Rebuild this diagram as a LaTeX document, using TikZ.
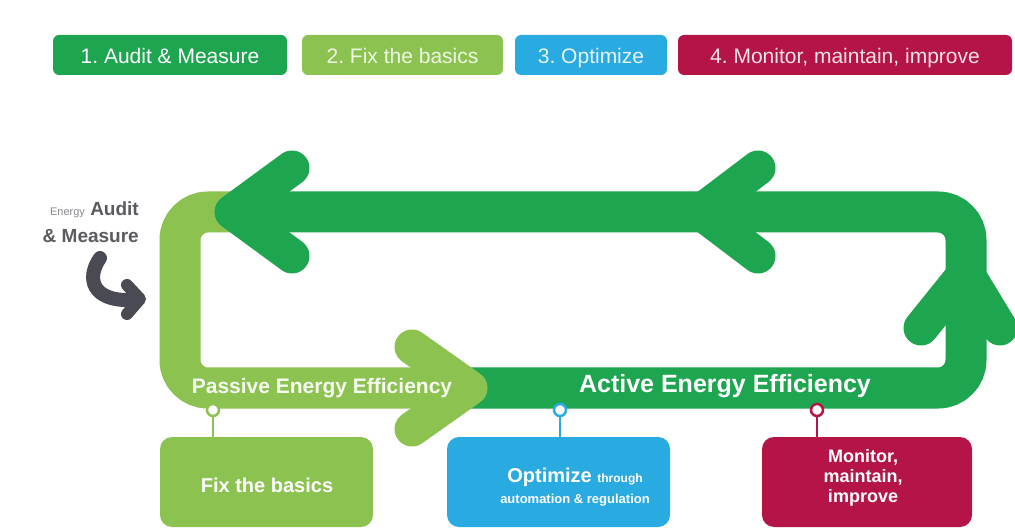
\documentclass[tikz,border=0pt]{standalone}
\usepackage{fontspec}
\setmainfont{Liberation Sans}
\setsansfont{Liberation Sans}
\definecolor{dkgreen}{HTML}{1EA550}
\definecolor{ltgreen}{HTML}{8CC350}
\definecolor{skyblue}{HTML}{29AAE1}
\definecolor{crimson}{HTML}{B41446}
\definecolor{slate}{HTML}{4A4A55}
\definecolor{txtgray}{HTML}{5A5A60}
\definecolor{lightgray}{HTML}{8A8A90}
\begin{document}
\begin{tikzpicture}[x=1pt,y=-1pt,
  legendbox/.style={rounded corners=6pt, minimum height=40pt, inner sep=0pt,
    text height=21pt, text depth=4pt, font=\fontsize{21}{25}\selectfont},
  band/.style={line width=41pt, rounded corners=28pt},
  chevron/.style={line width=35pt, line cap=round, line join=round},
  lowbox/.style={rounded corners=12pt, minimum height=90pt, inner sep=0pt},
  lowtext/.style={text=white, align=center, inner sep=0pt},
  pin/.style={circle, fill=white, line width=2.5pt, minimum size=12pt, inner sep=0pt},
  pinline/.style={line width=2.5pt},
]
\useasboundingbox (0,0) rectangle (1015,529);
\fill[white] (0,0) rectangle (1015,529);

% legend
\node[legendbox, fill=dkgreen, minimum width=234pt, text=white] (lg1) at (170,55) {1.\ Audit \& Measure};
\node[legendbox, fill=ltgreen, minimum width=201pt, text=white!85!ltgreen] (lg2) at (402.5,55) {2.\ Fix the basics};
\node[legendbox, fill=skyblue, minimum width=152pt, text=white!88!skyblue] (lg3) at (591,55) {3.\ Optimize};
\node[legendbox, fill=crimson, minimum width=334pt, text=white!88!crimson] (lg4) at (845,55) {4.\ Monitor, maintain, improve};

% loop bands
\draw[band, dkgreen] (460,388) -- (966,388) -- (966,212) -- (232,212);
\draw[band, ltgreen] (232,212) -- (180,212) -- (180,388) -- (470,388);

% arrow heads
\draw[chevron, ltgreen] (412,347) -- (470,388) -- (412,429);
\draw[chevron, dkgreen] (292,168) -- (232,212) -- (292,256);
\draw[chevron, dkgreen] (758,168) -- (700,212) -- (758,256);
\draw[chevron, dkgreen] (921,328) -- (966,272) -- (1000,328);

% band labels
\node[text=white!92!ltgreen, font=\bfseries\fontsize{21}{21}\selectfont] (passive) at (322,388) {Passive Energy Efficiency};
\node[text=white, font=\bfseries\fontsize{25}{25}\selectfont] (active) at (725,386) {Active Energy Efficiency};

% energy audit label and curved arrow
\node[align=right, anchor=east, text=txtgray, inner sep=0pt,
  font=\bfseries\fontsize{19}{27}\selectfont] (audit) at (139,222)
  {{\mdseries\color{lightgray}\fontsize{11}{11}\selectfont Energy} Audit\\\& Measure};
\coordinate (cstart) at (100,258);
\coordinate (cend) at (130,300);
\draw[slate, line width=14pt, line cap=round] (cstart) .. controls (86,278) and (92,301) .. (cend);
\draw[slate, line width=12pt, line cap=round, line join=round] (127,285) -- (140,299) -- (127,314);

% bottom boxes
\node[lowbox, fill=ltgreen, minimum width=213pt] (fix) at (266.5,482) {};
\node[lowbox, fill=skyblue, minimum width=223pt] (opt) at (558.5,482) {};
\node[lowbox, fill=crimson, minimum width=210pt] (mon) at (867,482) {};

\node[lowtext, font=\bfseries\fontsize{20}{20}\selectfont] (fixtxt) at (267,485) {Fix the basics};
\node[lowtext, font=\bfseries\fontsize{20}{21}\selectfont] (opttxt) at (575,487)
  {Optimize {\fontsize{12}{12}\selectfont through}\\{\fontsize{13}{14}\selectfont automation \& regulation}};
\node[lowtext, font=\bfseries\fontsize{18}{20}\selectfont] (montxt) at (863,478) {Monitor,\\maintain,\\improve};

% pins and connectors
\node[pin, draw=ltgreen] (p1) at (213,410) {};
\node[pin, draw=skyblue] (p2) at (560,410) {};
\node[pin, draw=crimson] (p3) at (817,410) {};
\draw[pinline, ltgreen] (p1) -- (p1 |- fix.north);
\draw[pinline, skyblue] (p2) -- (p2 |- opt.north);
\draw[pinline, crimson] (p3) -- (p3 |- mon.north);
\end{tikzpicture}
\end{document}
